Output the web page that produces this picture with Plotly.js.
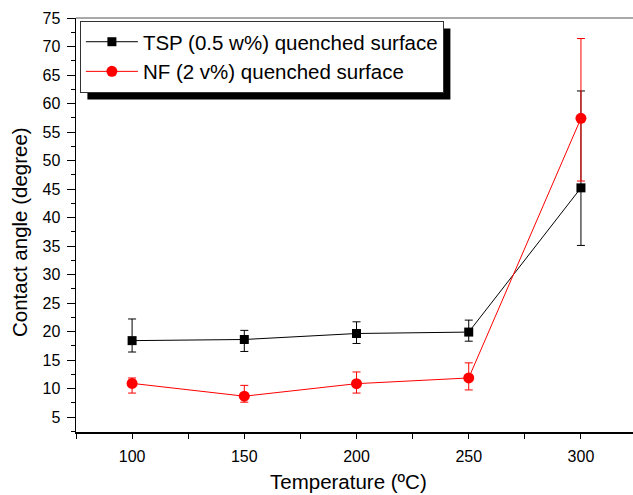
<!DOCTYPE html>
<html>
<head>
<meta charset="utf-8">
<script src="https://cdn.plot.ly/plotly-3.0.1.min.js"></script>
<style>
html,body{margin:0;padding:0;background:#fff;overflow:hidden;}
#chart{width:633px;height:495px;}
</style>
</head>
<body>
<div id="chart"></div>
<script>
// Data
const temperatures = [100, 150, 200, 250, 300];

const tspName = "TSP (0.5 w%) quenched surface";
const tspAngle = [18.4, 18.6, 19.65, 19.9, 45.2];
const tspErrUp = [3.8, 1.6, 2.05, 2.1, 17.0];
const tspErrDown = [2.0, 2.1, 1.75, 1.6, 10.1];

const nfName = "NF (2 v%) quenched surface";
const nfAngle = [10.9, 8.65, 10.85, 11.85, 57.4];
const nfErrUp = [0.95, 1.9, 2.05, 2.65, 14.0];
const nfErrDown = [1.7, 1.05, 1.65, 2.1, 11.0];

const xTitle = "Temperature (ºC)";
const yTitle = "Contact angle (degree)";

const FONT = "Liberation Sans, Arial, sans-serif";
const M = {l: 76, r: 0, t: 18, b: 63};
const PW = 633 - M.l - M.r, PH = 495 - M.t - M.b;

const traces = [
  {
    x: temperatures, y: tspAngle, name: tspName,
    type: "scatter", mode: "lines+markers",
    line: {color: "#000000", width: 1},
    marker: {symbol: "square", size: 9, color: "#000000"},
    error_y: {type: "data", symmetric: false, array: tspErrUp, arrayminus: tspErrDown,
              color: "#000000", thickness: 1, width: 4}
  },
  {
    x: temperatures, y: nfAngle, name: nfName,
    type: "scatter", mode: "lines+markers",
    line: {color: "#ff0000", width: 1},
    marker: {symbol: "circle", size: 11, color: "#ff0000"},
    error_y: {type: "data", symmetric: false, array: nfErrUp, arrayminus: nfErrDown,
              color: "#ff0000", thickness: 1, width: 4}
  }
];

const layout = {
  width: 633, height: 495,
  margin: M,
  paper_bgcolor: "#ffffff", plot_bgcolor: "#ffffff",
  font: {family: FONT, size: 16, color: "#000000"},
  showlegend: true,
  legend: {
    x: 0.007, y: 0.993, xanchor: "left", yanchor: "top",
    bgcolor: "#ffffff", bordercolor: "#333333", borderwidth: 1,
    font: {family: FONT, size: 20.5, color: "#000000"},
    tracegroupgap: 0, itemwidth: 52
  },
  xaxis: {
    range: [75, 323.2], tick0: 0, dtick: 50,
    showgrid: false, zeroline: false,
    showline: true, linecolor: "#000000", linewidth: 1.5,
    ticks: "outside", ticklen: 5, tickwidth: 1, tickcolor: "#000000",
    minor: {dtick: 25, tick0: 0, ticks: "outside", ticklen: 5, tickwidth: 1, tickcolor: "#000000", showgrid: false},
    tickfont: {family: FONT, size: 16},
    ticklabelstandoff: 4
  },
  yaxis: {
    range: [2.37, 75], tick0: 0, dtick: 5,
    showgrid: false, zeroline: false,
    showline: true, linecolor: "#000000", linewidth: 1.5,
    ticks: "outside", ticklen: 8, tickwidth: 1, tickcolor: "#000000",
    minor: {dtick: 2.5, tick0: 0, ticks: "outside", ticklen: 4, tickwidth: 1, tickcolor: "#000000", showgrid: false},
    tickfont: {family: FONT, size: 16},
    ticklabelstandoff: 3
  },
  annotations: [
    {text: xTitle, xref: "paper", yref: "paper", x: (348 - M.l) / PW, y: (M.t + PH - 481) / PH,
     xanchor: "center", yanchor: "middle", showarrow: false, font: {family: FONT, size: 20.5}},
    {text: yTitle, xref: "paper", yref: "paper", x: (19 - M.l) / PW, y: (M.t + PH - 232) / PH,
     xanchor: "center", yanchor: "middle", textangle: -90, showarrow: false, font: {family: FONT, size: 20.5}}
  ],
  shapes: [
    {type: "line", xref: "paper", yref: "paper", x0: 0, x1: 1, y0: 1, y1: 1,
     line: {color: "#555555", width: 1}}
  ]
};

Plotly.newPlot("chart", traces, layout, {displayModeBar: false, staticPlot: true}).then(function (gd) {
  // legend drop shadow, placed from the rendered legend box
  const bg = gd.querySelector(".legend .bg");
  if (!bg) return;
  const r = bg.getBoundingClientRect();
  const c = gd.getBoundingClientRect();
  const L = r.left - c.left, T = r.top - c.top, R = r.right - c.left, B = r.bottom - c.top;
  const off = 7;
  const shadow = {type: "rect", xref: "paper", yref: "paper",
    x0: (L + off - M.l) / PW, x1: (R + off - M.l) / PW,
    y0: (M.t + PH - (B + off)) / PH, y1: (M.t + PH - (T + off)) / PH,
    fillcolor: "#000000", line: {width: 0}, layer: "below"};
  return Plotly.relayout(gd, {shapes: layout.shapes.concat([shadow])});
});
</script>
</body>
</html>
